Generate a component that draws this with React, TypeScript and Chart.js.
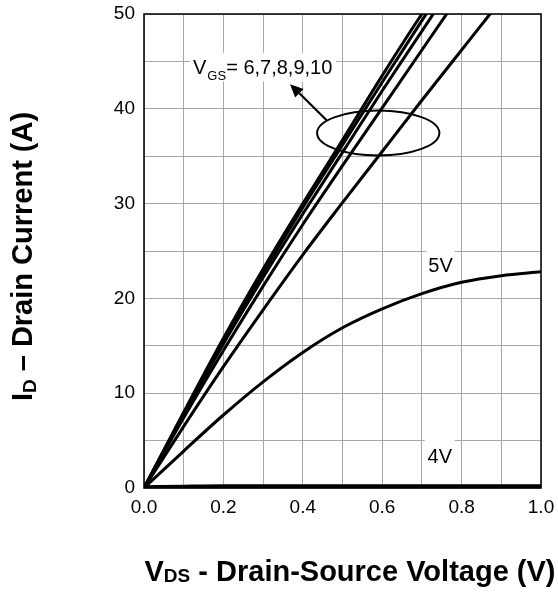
import React, { useEffect, useRef } from "react";
import { Chart, registerables } from "chart.js";

Chart.register(...registerables);

// V_DS grid (V)
const vds = [0, 0.1, 0.2, 0.3, 0.4, 0.5, 0.6, 0.7, 0.8, 0.9, 1.0];

// I_D (A) per gate voltage
const id10 = [0, 8.0, 15.8, 23.1, 30.0, 36.7, 43.5, 50.0, 56.0];
const id9 = [0, 7.9, 15.5, 22.7, 29.6, 36.2, 42.8, 49.3, 55.8];
const id8 = [0, 7.7, 15.2, 22.2, 28.9, 35.4, 41.9, 48.2, 54.5];
const id7 = [0, 7.4, 14.5, 21.3, 27.8, 34.0, 40.1, 46.2, 52.3];
const id6 = [0, 6.5, 12.8, 18.8, 24.6, 30.1, 35.5, 40.9, 46.2, 51.5];
const id5 = [0, 3.9, 7.7, 11.2, 14.3, 16.9, 18.9, 20.5, 21.7, 22.4, 22.8];
const id4 = [0, 0.06, 0.1, 0.1, 0.1, 0.1, 0.1, 0.1, 0.1, 0.1, 0.1];

const seriesNames = ["10V", "9V", "8V", "7V", "6V", "5V", "4V"];
const seriesValues = [id10, id9, id8, id7, id6, id5, id4];

// axis ranges / ticks
const xMin = 0, xMax = 1.0, xStep = 0.1;
const yMin = 0, yMax = 50, yStep = 5;

// annotation anchors (data units)
const vgsLabelAt = [0.1235, 43.7];
const arrowFrom = [0.46, 38.8];
const arrowTo = [0.368, 42.6];
const ellipseCenter = [0.59, 37.45];
const ellipseRadii = [0.154, 2.37];
const label5At = [0.747, 23.4];
const label4At = [0.745, 3.2];

const FONT = "'Liberation Sans', Arial, sans-serif";

const overlay = {
  id: "overlay",
  beforeDatasetsDraw(chart: any) {
    const { ctx, chartArea: a, scales } = chart;
    const px = (v: number) => scales.x.getPixelForValue(v);
    const py = (v: number) => scales.y.getPixelForValue(v);
    ctx.save();
    ctx.fillStyle = "#ffffff";
    const vx = px(vgsLabelAt[0]);
    const vy = py(vgsLabelAt[1]);
    ctx.fillRect(vx - 3, vy - 21, 146, 29);
    ctx.fillRect(px(label5At[0]) - 14, py(label5At[1]) - 16, 28, 27);
    ctx.fillRect(px(label4At[0]) - 15, py(label4At[1]) - 20, 30, 32);
    ctx.strokeStyle = "#000";
    ctx.lineWidth = 1.5;
    ctx.strokeRect(a.left, a.top, a.right - a.left, a.bottom - a.top);
    ctx.restore();
  },
  afterDatasetsDraw(chart: any) {
    const { ctx, scales } = chart;
    const px = (v: number) => scales.x.getPixelForValue(v);
    const py = (v: number) => scales.y.getPixelForValue(v);
    ctx.save();
    ctx.fillStyle = "#000";
    ctx.strokeStyle = "#000";

    // ellipse
    const cx = px(ellipseCenter[0]);
    const cy = py(ellipseCenter[1]);
    const rx = px(ellipseCenter[0] + ellipseRadii[0]) - cx;
    const ry = cy - py(ellipseCenter[1] + ellipseRadii[1]);
    ctx.lineWidth = 2;
    ctx.beginPath();
    ctx.ellipse(cx, cy, rx, ry, 0, 0, Math.PI * 2);
    ctx.stroke();

    // arrow
    const x1 = px(arrowFrom[0]), y1 = py(arrowFrom[1]);
    const x2 = px(arrowTo[0]), y2 = py(arrowTo[1]);
    const ang = Math.atan2(y2 - y1, x2 - x1);
    const headLen = 13, headW = 6;
    const bx = x2 - headLen * Math.cos(ang);
    const by = y2 - headLen * Math.sin(ang);
    ctx.lineWidth = 2.2;
    ctx.beginPath();
    ctx.moveTo(x1, y1);
    ctx.lineTo(bx, by);
    ctx.stroke();
    ctx.beginPath();
    ctx.moveTo(x2, y2);
    ctx.lineTo(bx + headW * Math.sin(ang), by - headW * Math.cos(ang));
    ctx.lineTo(bx - headW * Math.sin(ang), by + headW * Math.cos(ang));
    ctx.closePath();
    ctx.fill();

    // VGS label
    ctx.textBaseline = "alphabetic";
    ctx.textAlign = "left";
    let tx = px(vgsLabelAt[0]);
    const ty = py(vgsLabelAt[1]);
    ctx.font = `20px ${FONT}`;
    ctx.fillText("V", tx, ty);
    tx += ctx.measureText("V").width + 1;
    ctx.font = `13px ${FONT}`;
    ctx.fillText("GS", tx, ty + 6);
    tx += ctx.measureText("GS").width;
    ctx.font = `20px ${FONT}`;
    ctx.fillText("= 6,7,8,9,10", tx, ty);

    // 5V, 4V labels
    ctx.textAlign = "center";
    ctx.textBaseline = "middle";
    ctx.fillText("5V", px(label5At[0]), py(label5At[1]));
    ctx.fillText("4V", px(label4At[0]), py(label4At[1]));

    // axis titles
    const big = `bold 29px ${FONT}`;
    const small = `bold 19px ${FONT}`;
    ctx.textAlign = "left";
    ctx.textBaseline = "alphabetic";
    const xParts: [string, string, number][] = [
      ["V", big, 0],
      ["DS", small, 1],
      [" - Drain-Source Voltage (V)", big, 0],
    ];
    let total = 0;
    for (const [t, f] of xParts) { ctx.font = f; total += ctx.measureText(t).width; }
    let sx = 350 - total / 2;
    const sy = 581;
    for (const [t, f, off] of xParts) {
      ctx.font = f;
      ctx.fillText(t, sx, sy + off);
      sx += ctx.measureText(t).width;
    }
    const yParts: [string, string, number][] = [
      ["I", big, 0],
      ["D", small, 4],
      [" \u2013 Drain Current (A)", big, 0],
    ];
    total = 0;
    for (const [t, f] of yParts) { ctx.font = f; total += ctx.measureText(t).width; }
    ctx.translate(32, 256.5);
    ctx.rotate(-Math.PI / 2);
    let rx2 = -total / 2;
    for (const [t, f, off] of yParts) {
      ctx.font = f;
      ctx.fillText(t, rx2, off);
      rx2 += ctx.measureText(t).width;
    }
    ctx.restore();
  },
};

export default function App() {
  const ref = useRef<HTMLCanvasElement | null>(null);

  useEffect(() => {
    if (!ref.current) return;
    const datasets = seriesValues.map((vals, i) => ({
      label: seriesNames[i],
      data: vals.map((y, j) => ({ x: vds[j], y })),
      borderColor: "#000",
      backgroundColor: "#000",
      borderWidth: seriesNames[i] === "4V" ? 5.5 : 3,
      pointRadius: 0,
      cubicInterpolationMode: "monotone" as const,
      fill: false,
    }));
    const chart = new Chart(ref.current, {
      type: "line",
      data: { datasets },
      options: {
        responsive: false,
        animation: false,
        layout: { padding: { left: 0, right: 17, top: 14, bottom: 0 } },
        plugins: { legend: { display: false }, tooltip: { enabled: false } },
        scales: {
          x: {
            type: "linear",
            min: xMin,
            max: xMax,
            afterFit: (s: any) => { s.height = 105; s.paddingLeft = 0; s.paddingRight = 0; },
            grid: { color: "#a8a8a8", lineWidth: 1, drawTicks: false },
            border: { display: false },
            ticks: {
              stepSize: xStep,
              autoSkip: false,
              maxRotation: 0,
              padding: 8,
              color: "#000",
              font: { family: FONT, size: 19 },
              callback: (v: any) => {
                const n = Math.round(Number(v) * 10);
                return n % 2 === 0 ? (n / 10).toFixed(1) : "";
              },
            },
          },
          y: {
            type: "linear",
            min: yMin,
            max: yMax,
            afterFit: (s: any) => { s.width = 144; s.paddingTop = 0; s.paddingBottom = 0; },
            grid: { color: "#a8a8a8", lineWidth: 1, drawTicks: false },
            border: { display: false },
            ticks: {
              stepSize: yStep,
              autoSkip: false,
              padding: 9,
              color: "#000",
              font: { family: FONT, size: 19 },
              callback: (v: any) => (Number(v) % 10 === 0 ? String(v) : ""),
            },
          },
        },
      },
      plugins: [overlay],
    });
    return () => chart.destroy();
  }, []);

  return (
    <div style={{ position: "absolute", left: 0, top: 0, width: 558, height: 593, background: "#fff" }}>
      <canvas ref={ref} width={558} height={593} style={{ display: "block" }} />
    </div>
  );
}
